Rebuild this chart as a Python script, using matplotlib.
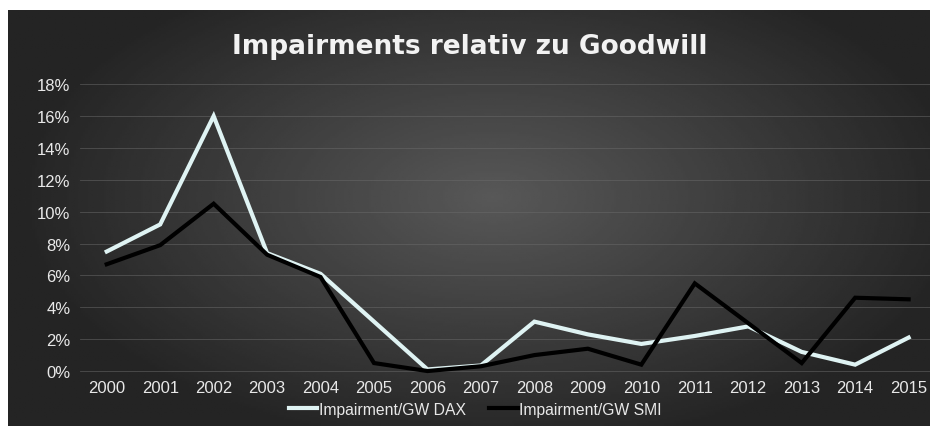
import numpy as np
import matplotlib
import matplotlib.pyplot as plt
from matplotlib.ticker import FuncFormatter

matplotlib.use('Agg')

years = [str(y) for y in range(2000, 2016)]
dax = [7.5, 9.2, 16.0, 7.4, 6.1, 3.1, 0.1, 0.35, 3.1, 2.3, 1.7, 2.2, 2.8, 1.2, 0.4, 2.1]
smi = [6.7, 7.9, 10.5, 7.3, 5.9, 0.5, 0.0, 0.3, 1.0, 1.4, 0.4, 5.5, 3.0, 0.5, 4.6, 4.5]
y_ticks = list(range(0, 20, 2))

plt.rcParams['font.family'] = ['Liberation Sans', 'DejaVu Sans']

fig = plt.figure(figsize=(9.3, 4.27), dpi=100, facecolor='white')

# radial gradient background panel
bg = fig.add_axes([8 / 930, 0, 922 / 930, 416 / 427])
gx, gy = np.meshgrid(np.linspace(-1, 1, 400), np.linspace(-1, 1, 200))
r = np.sqrt(((gx - 0.05) / 1.1) ** 2 + ((gy + 0.1) / 1.3) ** 2)
shade = np.clip(88 - 55 * r, 36, 90) / 255
bg.imshow(shade, cmap='gray', vmin=0, vmax=1, aspect='auto', extent=[0, 1, 0, 1])
bg.set_axis_off()

ax = fig.add_axes([80 / 930, (427 - 380) / 427, (930 - 80) / 930, (380 - 82) / 427])
ax.set_facecolor('none')
x = np.arange(len(years))
ax.plot(x, dax, color='#dff3f3', linewidth=3, solid_joinstyle='miter', label='Impairment/GW DAX')
ax.plot(x, smi, color='black', linewidth=3, solid_joinstyle='miter', label='Impairment/GW SMI')

ax.set_xlim(-0.5, 15.4)
ax.set_ylim(-0.5, 18.2)
ax.set_yticks(y_ticks)
ax.yaxis.set_major_formatter(FuncFormatter(lambda v, p: f"{int(v)}%"))
ax.set_xticks(x)
ax.set_xticklabels(years)
ax.tick_params(colors='#e8e8e8', labelsize=12, length=0)
ax.tick_params(axis='x', pad=1)
ax.tick_params(axis='y', pad=7)
ax.grid(axis='y', color='#6a6a6a', linewidth=0.6, alpha=0.6)
ax.grid(axis='x', visible=False)
for s in ax.spines.values():
    s.set_visible(False)

fig.text(0.505, 0.89, 'Impairments relativ zu Goodwill', ha='center', va='center',
         fontsize=19, fontweight='bold', color='#f2f2f2', family='DejaVu Sans')

leg = ax.legend(loc='upper center', bbox_to_anchor=(0.465, -0.05), ncol=2, frameon=False,
                fontsize=11.3, labelcolor='#e8e8e8', handlelength=1.8, handletextpad=0.1,
                columnspacing=1.5, borderpad=0)

plt.savefig('out.png', dpi=100)
